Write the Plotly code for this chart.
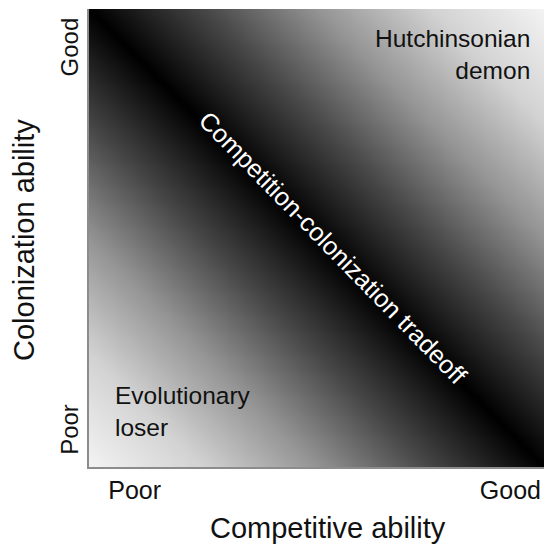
import numpy as np
import plotly.graph_objects as go

# Axis coordinates of the conceptual trait space (0 = poor, 1 = good)
competitive_axis = np.linspace(0, 1, 121).tolist()
colonization_axis = np.linspace(0, 1, 121).tolist()

# Tick labels (x labels are right-aligned at their tick)
x_tick_vals = [0.160, 0.995]
x_tick_text = ["Poor", "Good"]
y_tick_vals = [0.074, 0.909]
y_tick_text = ["Poor", "Good"]

# Grey tone as a function of distance from the tradeoff line
tone_stops = [0.0, 0.25, 0.5, 0.75, 1.0]
tone_levels = [0, 70, 148, 210, 243]

# Region labels
region_text = ["Hutchinsonian<br>demon", "Evolutionary<br>loser"]
region_x = [0.974, 0.053]
region_y = [0.90, 0.122]
region_anchor = ["right", "left"]

tradeoff_text = "Competition-colonization tradeoff"
x_title = "Competitive ability"
y_title = "Colonization ability"

X, Y = np.meshgrid(competitive_axis, colonization_axis)
dist = np.abs(X + Y - 1.0)

colorscale = [[s, f"rgb({g},{g},{g})"] for s, g in zip(tone_stops, tone_levels)]

fig = go.Figure()
fig.add_trace(go.Heatmap(
    x=competitive_axis, y=colonization_axis, z=dist,
    colorscale=colorscale, zmin=0, zmax=1, zsmooth="best",
    showscale=False, hoverinfo="skip",
))

FONT = "Liberation Sans, Arial, sans-serif"
INK = "#111111"

annotations = []
for t, x, y, a in zip(region_text, region_x, region_y, region_anchor):
    annotations.append(dict(
        text=t, x=x, y=y, xref="x", yref="y", xanchor=a, yanchor="middle",
        align=a, showarrow=False, font=dict(family=FONT, size=24.5, color=INK),
    ))
annotations.append(dict(
    text=tradeoff_text, x=0.537, y=0.478, xref="x", yref="y",
    xanchor="center", yanchor="middle", textangle=45.6, showarrow=False,
    font=dict(family=FONT, size=25.3, color="white"),
))
# axis titles
annotations.append(dict(
    text=x_title, x=0.526, y=0, xref="paper", yref="paper",
    xanchor="center", yanchor="middle", yshift=-61, showarrow=False,
    font=dict(family=FONT, size=29, color=INK),
))
annotations.append(dict(
    text=y_title, x=0, y=0.5, xref="paper", yref="paper",
    xanchor="center", yanchor="middle", xshift=-65, yshift=-2,
    textangle=-90, showarrow=False,
    font=dict(family=FONT, size=29, color=INK),
))

fig.update_layout(
    annotations=annotations,
    width=544, height=547,
    margin=dict(l=89, r=0, t=9, b=80, pad=0),
    paper_bgcolor="white", plot_bgcolor="white",
    xaxis=dict(
        range=[0, 1], showgrid=False, zeroline=False,
        tickmode="array", tickvals=x_tick_vals, ticktext=x_tick_text,
        ticks="", ticklabelposition="outside left",
        tickfont=dict(family=FONT, size=25, color=INK),
        showline=True, linecolor="#8c8c8c", linewidth=1.5,
    ),
    yaxis=dict(
        range=[0, 1], showgrid=False, zeroline=False,
        tickmode="array", tickvals=y_tick_vals, ticktext=y_tick_text,
        ticks="", tickangle=-90, tickfont=dict(family=FONT, size=24, color=INK),
        showline=True, linecolor="#8c8c8c", linewidth=1.5,
    ),
)

fig.write_html(
    "out.html",
    config={"displayModeBar": False},
    post_script="document.body.style.margin='0px';document.body.style.overflow='hidden';",
)
